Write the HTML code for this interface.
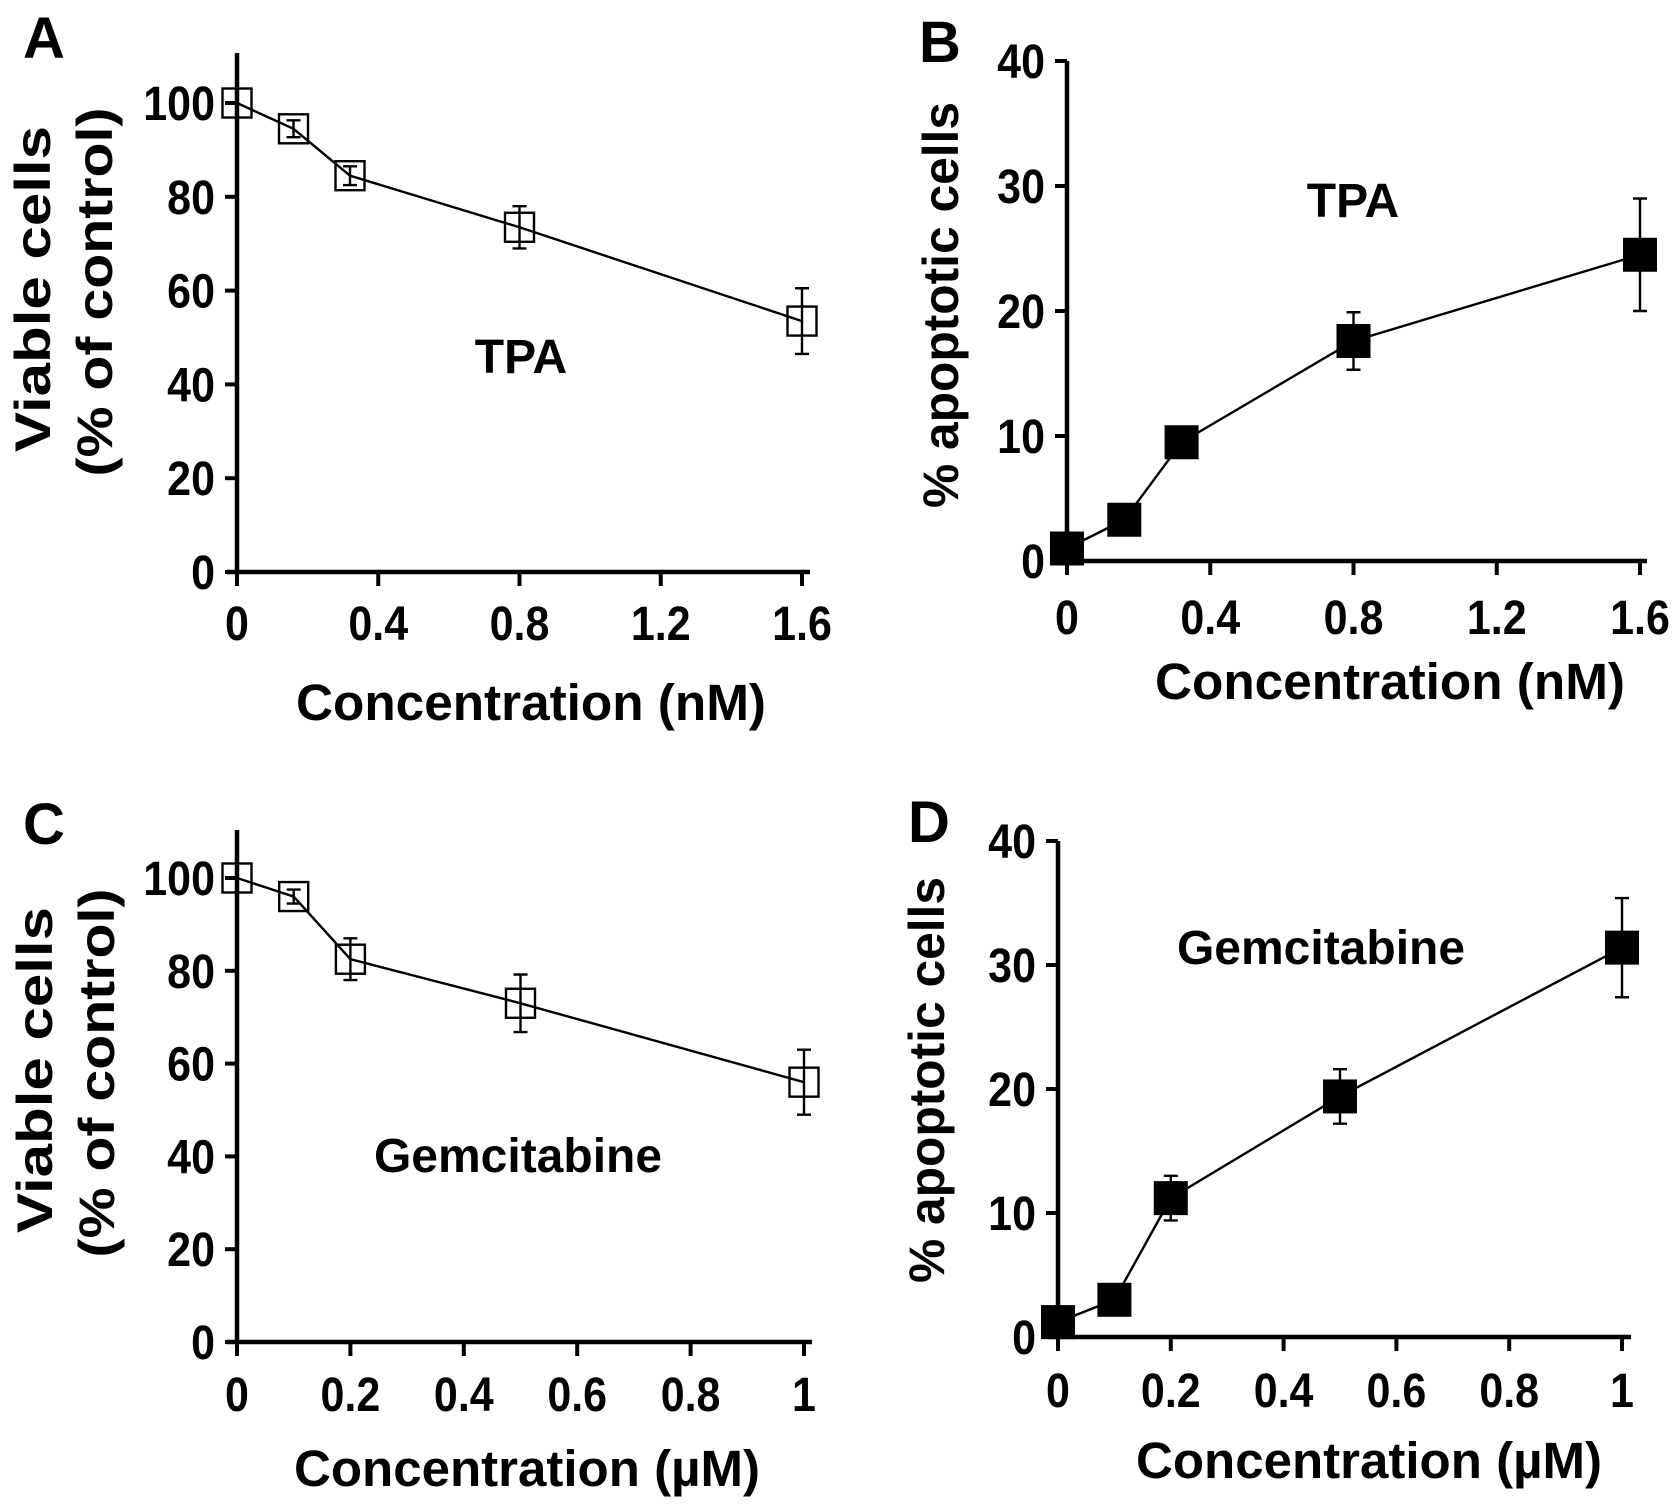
<!DOCTYPE html>
<html><head><meta charset="utf-8">
<style>
html,body{margin:0;padding:0;background:#fff;}
svg{display:block;}
text{font-family:"Liberation Sans",Arial,sans-serif;font-weight:bold;fill:#000;}
</style></head>
<body>
<svg id="fig" width="1677" height="1508" viewBox="0 0 1677 1508" xmlns="http://www.w3.org/2000/svg"></svg>
<script>
// Panel A (TPA viability)
const aX = [0, 0.16, 0.32, 0.8, 1.6];
const aY = [100, 94.5, 84.5, 73.5, 53.5];
const aErr = [0, 1.8, 2, 4.5, 7];
const aXTicks = ["0","0.4","0.8","1.2","1.6"];
const aYTicks = ["0","20","40","60","80","100"];
// Panel B (TPA apoptosis)
const bX = [0, 0.16, 0.32, 0.8, 1.6];
const bY = [1.0, 3.3, 9.5, 17.6, 24.5];
const bErr = [0, 0, 0, 2.3, 4.5];
const bXTicks = ["0","0.4","0.8","1.2","1.6"];
const bYTicks = ["0","10","20","30","40"];
// Panel C (Gemcitabine viability)
const cX = [0, 0.1, 0.2, 0.5, 1];
const cY = [100, 96, 82.5, 73, 56];
const cErr = [0, 1.5, 4.5, 6.2, 7];
const cXTicks = ["0","0.2","0.4","0.6","0.8","1"];
const cYTicks = ["0","20","40","60","80","100"];
// Panel D (Gemcitabine apoptosis)
const dX = [0, 0.1, 0.2, 0.5, 1];
const dY = [1.2, 3.0, 11.2, 19.4, 31.4];
const dErr = [0, 0, 1.8, 2.2, 4];
const dXTicks = ["0","0.2","0.4","0.6","0.8","1"];
const dYTicks = ["0","10","20","30","40"];

const NS = "http://www.w3.org/2000/svg";
const svg = document.getElementById('fig');
function mk(tag, attrs, parent, txt){
  const e = document.createElementNS(NS, tag);
  for (const k in attrs) e.setAttribute(k, attrs[k]);
  if (txt !== undefined) e.textContent = txt;
  (parent||svg).appendChild(e);
  return e;
}
function tlen(t){ let w=0; for (const c of t) w += (c==='.') ? 0.278 : 0.556; return w*43; }

function panel(cfg){
  const g = mk('g', {});
  
  
  const xmin = 0, xmax = cfg.xmax, ymax = cfg.ymax;
  const sx = v => cfg.x0 + (v - xmin) / (xmax - xmin) * (cfg.x1 - cfg.x0);
  const sy = v => cfg.y0 - v / ymax * (cfg.y0 - cfg.y1);
  const ya = mk('line', {x1:sx(0), y1:cfg.yTop, x2:sx(0), y2:cfg.y0+2, stroke:'#000','stroke-width':4.5}, g);
  
  
  const xa = mk('line', {x1:sx(0)-10, y1:cfg.y0, x2:cfg.xEnd, y2:cfg.y0, stroke:'#000','stroke-width':4.5}, g);
  
  
  cfg.yTicks.forEach(t => {
    const v = parseFloat(t), y = sy(v);
    mk('line', {x1:sx(0)-12, y1:y, x2:sx(0), y2:y, stroke:'#000','stroke-width':4}, g);
    const tx = mk('text', {x:sx(0)-22, y:y+17, 'text-anchor':'end','font-size':48, textLength:tlen(t), lengthAdjust:'spacingAndGlyphs'}, g, t);
    
    
  });
  cfg.xTicks.forEach(t => {
    const v = parseFloat(t), x = sx(v);
    mk('line', {x1:x, y1:cfg.y0, x2:x, y2:cfg.y0+14, stroke:'#000','stroke-width':4}, g);
    const tx = mk('text', {x:x, y:cfg.xLabY+2, 'text-anchor':'middle','font-size':48, textLength:tlen(t), lengthAdjust:'spacingAndGlyphs'}, g, t);
    
    
  });
  const pts = cfg.xs.map((v,i) => sx(v)+','+sy(cfg.ys[i])).join(' ');
  const pl = mk('polyline', {points:pts, fill:'none', stroke:'#000','stroke-width':2.4}, g);
  
  
  cfg.xs.forEach((v,i) => {
    const x = sx(v), y = sy(cfg.ys[i]), e = cfg.err[i];
    if (e > 0) {
      const eb = mk('path', {d:`M${x},${sy(cfg.ys[i]+e)}V${sy(cfg.ys[i]-e)}M${x-7},${sy(cfg.ys[i]+e)}h14M${x-7},${sy(cfg.ys[i]-e)}h14`, stroke:'#000','stroke-width':2.4, fill:'none'}, g);
      
      
    }
    const s = cfg.msize;
    const m = mk('rect', {x:x-s/2, y:y-s/2, width:s, height:s,
      fill: cfg.filled ? '#000' : 'none', stroke:'#000','stroke-width': cfg.filled ? 1 : 2.4}, g);
    
    
  });
  const xt = mk('text', {x:cfg.xTitleX, y:cfg.xTitleY, 'text-anchor':'middle','font-size':51, textLength:cfg.xTitleLen, lengthAdjust:'spacingAndGlyphs'}, g, cfg.xTitle);
  
  
  cfg.yTitles.forEach(yt => {
    const t = mk('text', {x:0, y:0, 'text-anchor':'middle','font-size':50, textLength:yt.len, lengthAdjust:'spacingAndGlyphs',
      transform:`translate(${yt.x},${yt.y}) rotate(-90)`}, g, yt.text);
    
    
  });
  const an = mk('text', {x:cfg.annX, y:cfg.annY, 'text-anchor':'middle','font-size':48}, g, cfg.ann);
  
  
  const pl2 = mk('text', {x:cfg.letX, y:cfg.letY, 'text-anchor':'middle','font-size':58}, g, cfg.letter);
  
  
}

panel({name:'panel-a', x0:237, x1:802, xEnd:810, xmax:1.6, y0:572, y1:103, ymax:100, yTop:53,
  xs:aX, ys:aY, err:aErr, xTicks:aXTicks, yTicks:aYTicks, filled:false, msize:29, xLabY:638,
  xTitle:'Concentration (nM)', xTitleX:531, xTitleY:720, xTitleLen:470,
  yTitles:[{text:'Viable cells', x:50, y:289, len:326},{text:'(% of control)', x:112, y:292, len:369}],
  ann:'TPA', annX:521, annY:373, letter:'A', letX:44, letY:58});
panel({name:'panel-b', x0:1067, x1:1640, xEnd:1647, xmax:1.6, y0:561, y1:61, ymax:40, yTop:61,
  xs:bX, ys:bY, err:bErr, xTicks:bXTicks, yTicks:bYTicks, filled:true, msize:33, xLabY:632,
  xTitle:'Concentration (nM)', xTitleX:1390, xTitleY:699, xTitleLen:470,
  yTitles:[{text:'% apoptotic cells', x:958, y:305, len:406}],
  ann:'TPA', annX:1353, annY:217, letter:'B', letX:940, letY:62});
panel({name:'panel-c', x0:237, x1:804, xEnd:812, xmax:1, y0:1342, y1:878, ymax:100, yTop:830,
  xs:cX, ys:cY, err:cErr, xTicks:cXTicks, yTicks:cYTicks, filled:false, msize:29, xLabY:1409,
  xTitle:'Concentration (µM)', xTitleX:527, xTitleY:1486, xTitleLen:466,
  yTitles:[{text:'Viable cells', x:52, y:1070, len:326},{text:'(% of control)', x:114, y:1073, len:369}],
  ann:'Gemcitabine', annX:518, annY:1172, letter:'C', letX:44, letY:844});
panel({name:'panel-d', x0:1058, x1:1622, xEnd:1631, xmax:1, y0:1337, y1:841, ymax:40, yTop:841,
  xs:dX, ys:dY, err:dErr, xTicks:dXTicks, yTicks:dYTicks, filled:true, msize:33, xLabY:1405,
  xTitle:'Concentration (µM)', xTitleX:1369, xTitleY:1478, xTitleLen:466,
  yTitles:[{text:'% apoptotic cells', x:944, y:1080, len:406}],
  ann:'Gemcitabine', annX:1321, annY:964, letter:'D', letX:929, letY:842});
</script>
</body></html>
